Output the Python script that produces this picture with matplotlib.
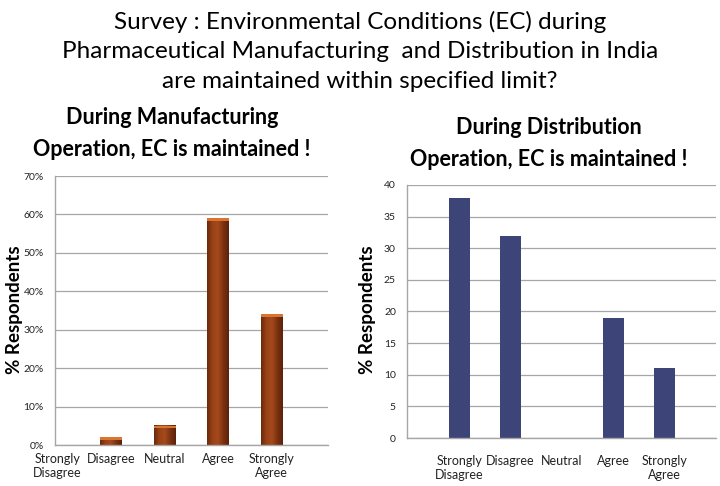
import matplotlib.pyplot as plt
import numpy as np
from matplotlib.colors import LinearSegmentedColormap

plt.rcParams['font.family'] = ['Lato', 'DejaVu Sans']

categories = ["Strongly\nDisagree", "Disagree", "Neutral", "Agree", "Strongly\nAgree"]
manufacturing = [0, 2, 5, 59, 34]
distribution = [38, 32, 0, 19, 11]

W, H = 720, 486
fig = plt.figure(figsize=(W / 100, H / 100), dpi=100)


def px_axes(x0, y0, x1, y1):
    # axes from pixel box (top-left origin)
    return fig.add_axes([x0 / W, 1 - y1 / H, (x1 - x0) / W, (y1 - y0) / H])


def px_text(x, y, s, **kw):
    fig.text(x / W, 1 - y / H, s, ha="center", va="center", **kw)


def style_axes(ax):
    for s in ["top", "right"]:
        ax.spines[s].set_visible(False)
    for s in ["left", "bottom"]:
        ax.spines[s].set_color("#a6a6a6")
        ax.spines[s].set_linewidth(1.0)
    ax.yaxis.grid(True, color="#a6a6a6", linewidth=0.9)
    ax.set_axisbelow(True)
    ax.tick_params(axis="both", length=0, labelsize=7.5, colors="#222222")
    ax.tick_params(axis="y", pad=8)
    ax.tick_params(axis="x", pad=6)


# main title
px_text(360, 22, "Survey : Environmental Conditions (EC) during", fontsize=17.5)
px_text(360, 52, "Pharmaceutical Manufacturing  and Distribution in India", fontsize=17.5)
px_text(360, 82, "are maintained within specified limit?", fontsize=17.5)

# subtitles
px_text(172, 118, "During Manufacturing", fontsize=15.5, fontweight="bold")
px_text(172, 149, "Operation, EC is maintained !", fontsize=15.5, fontweight="bold")
px_text(549, 128, "During Distribution", fontsize=15.5, fontweight="bold")
px_text(549, 159, "Operation, EC is maintained !", fontsize=15.5, fontweight="bold")

# y labels
px_text(15, 310, "% Respondents", fontsize=13.5, fontweight="bold", rotation=90)
px_text(368, 310, "% Respondents", fontsize=13.5, fontweight="bold", rotation=90)

# left chart: manufacturing
ax1 = px_axes(55, 176, 328, 445)
style_axes(ax1)
x = np.arange(len(categories))
width = 0.41
cmap = LinearSegmentedColormap.from_list("brown", ["#6b2a0c", "#9a4217", "#a5491c", "#7c3210", "#5a220a"])
grad = np.linspace(0, 1, 64).reshape(1, -1)
for xi, v in zip(x, manufacturing):
    if v <= 0:
        continue
    ax1.imshow(grad, cmap=cmap, aspect="auto", extent=(xi - width / 2, xi + width / 2, 0, v), zorder=2)
    ax1.bar(xi, 0.7, bottom=v - 0.7, width=width, color="#d9752f", zorder=3)
ax1.set_xlim(-0.05, 5.05)
ax1.set_ylim(0, 70)
ax1.set_yticks(np.arange(0, 71, 10))
ax1.set_yticklabels([f"{t}%" for t in range(0, 71, 10)])
ax1.set_xticks(x)
ax1.set_xticklabels(categories, fontsize=9)

# right chart: distribution
ax2 = px_axes(407, 185, 716, 438)
style_axes(ax2)
ax2.bar(x, distribution, width=0.4, color="#3d4478", zorder=2)
ax2.set_xlim(-1.02, 5.0)
ax2.set_ylim(0, 40)
ax2.set_yticks(np.arange(0, 41, 5))
ax2.set_xticks(x)
ax2.set_xticklabels(categories, fontsize=9)
ax2.tick_params(axis="x", pad=12)

fig.savefig("out.png", dpi=100)
